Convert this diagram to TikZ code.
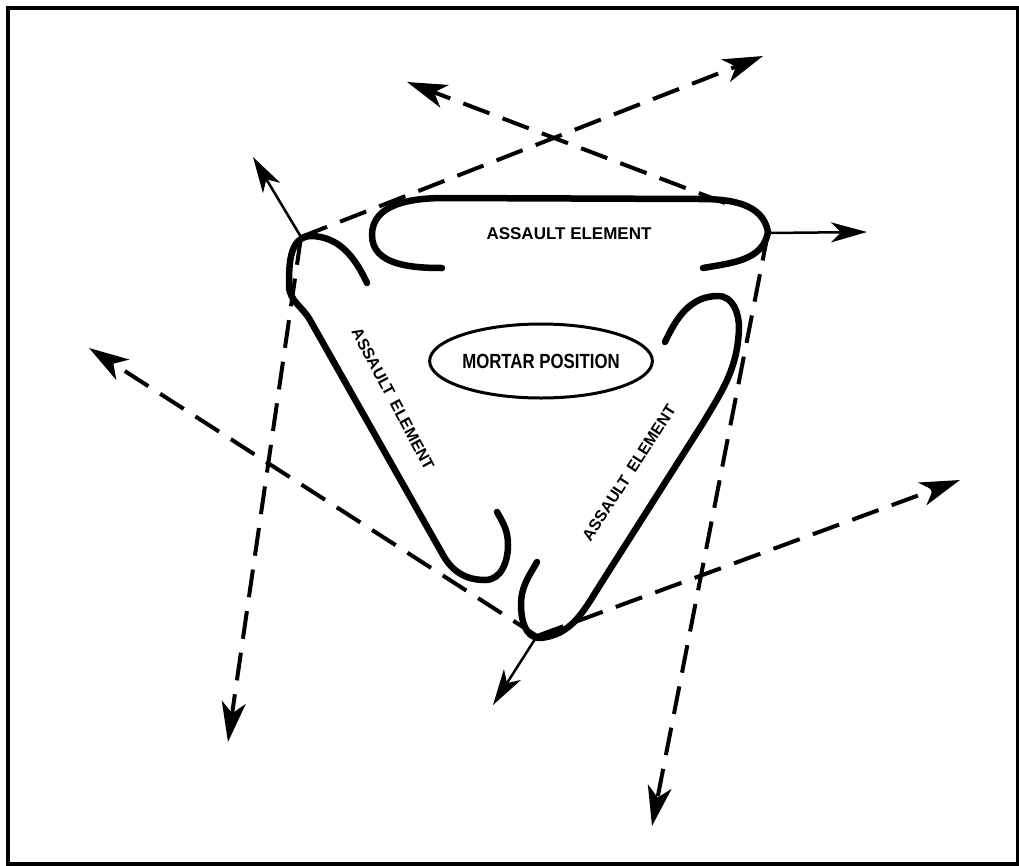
\documentclass[tikz,border=0pt]{standalone}
\usepackage{fontspec}
\setmainfont{Liberation Sans}
\usetikzlibrary{arrows.meta,shapes.geometric}
\tikzset{
  elem/.style={line width=6.5pt, line cap=round, line join=round},
  dashline/.style={line width=4pt, dash pattern=on 28pt off 14pt, -{Stealth[length=40pt,width=24pt,inset=11pt]}},
  sol/.style={line width=2.5pt, -{Stealth[length=36pt,width=20pt,inset=10pt]}},
  lbl/.style={font=\fontsize{17}{20}\selectfont\bfseries, inner sep=0pt},
  lblr/.style={font=\fontsize{16}{19}\selectfont\bfseries, inner sep=0pt}
}
\begin{document}
\begin{tikzpicture}[x=1pt,y=1pt]
\useasboundingbox (0,0) rectangle (1019,-865);
\draw[line width=4pt] (7.5,-7.5) rectangle (1018,-863.5);

% corner points
\coordinate (TL) at (301,-237);
\coordinate (TR) at (768,-233);
\coordinate (B) at (537,-636);
\coordinate (X) at (725,-203);
% arrow tips
\coordinate (tTLs) at (253,-157);
\coordinate (tTRs) at (867,-232);
\coordinate (tBs) at (493,-705);
\coordinate (tTLd1) at (763,-56);
\coordinate (tXd) at (407,-82);
\coordinate (tTLd2) at (228,-742);
\coordinate (tBd1) at (89,-348);
\coordinate (tBd2) at (960,-480);
\coordinate (tTRd) at (652,-826);

% dashed lines
\draw[dashline] (TL) -- (tTLd1);
\draw[dashline] (X) -- (tXd);
\draw[dashline] (TL) -- (tTLd2);
\draw[dashline] (B) -- (tBd1);
\draw[dashline] (B) -- (tBd2);
\draw[dashline] (TR) -- (tTRd);

% solid arrows
\draw[sol] (TL) -- (tTLs);
\draw[sol] (TR) -- (tTRs);
\draw[sol] (B) -- (tBs);

% assault elements
\draw[elem] (442,-268) to[out=180,in=-90] (372,-235) to[out=90,in=180] (445,-198)
  -- (700,-199) to[out=0,in=100] (768,-232) to[out=-100,in=10] (703,-268);
\draw[elem] (367,-283) to[out=115,in=0] (310,-236) to[out=185,in=90] (289,-285)
  to[out=-90,in=119.5] (310,-320) -- (443,-555) to[out=-60.5,in=180] (485,-580)
  to[out=0,in=-90] (508,-545) to[out=90,in=-60] (497,-512);
\draw[elem] (665,-342) to[out=65,in=180] (718,-296) to[out=0,in=90] (739,-328)
  to[out=-92,in=59] (703,-423) -- (600,-585) to[out=-122,in=5] (540,-638)
  to[out=180,in=-90] (521,-605) to[out=90,in=-120] (537,-562);

% labels
\node[lbl] (a1) at (569,-234) {ASSAULT ELEMENT};
\node[lblr, rotate=-62] (a2) at (393,-399) {ASSAULT\hspace{0.45em}ELEMENT};
\node[lblr, rotate=57] (a3) at (629,-473) {ASSAULT\hspace{0.45em}ELEMENT};
\node[draw, ellipse, line width=3pt, minimum width=187pt, minimum height=74pt, inner sep=0pt] (m) at (541,-361)
  {\scalebox{0.82}[1]{\fontsize{20.5}{24}\selectfont\bfseries MORTAR POSITION}};
\end{tikzpicture}
\end{document}
